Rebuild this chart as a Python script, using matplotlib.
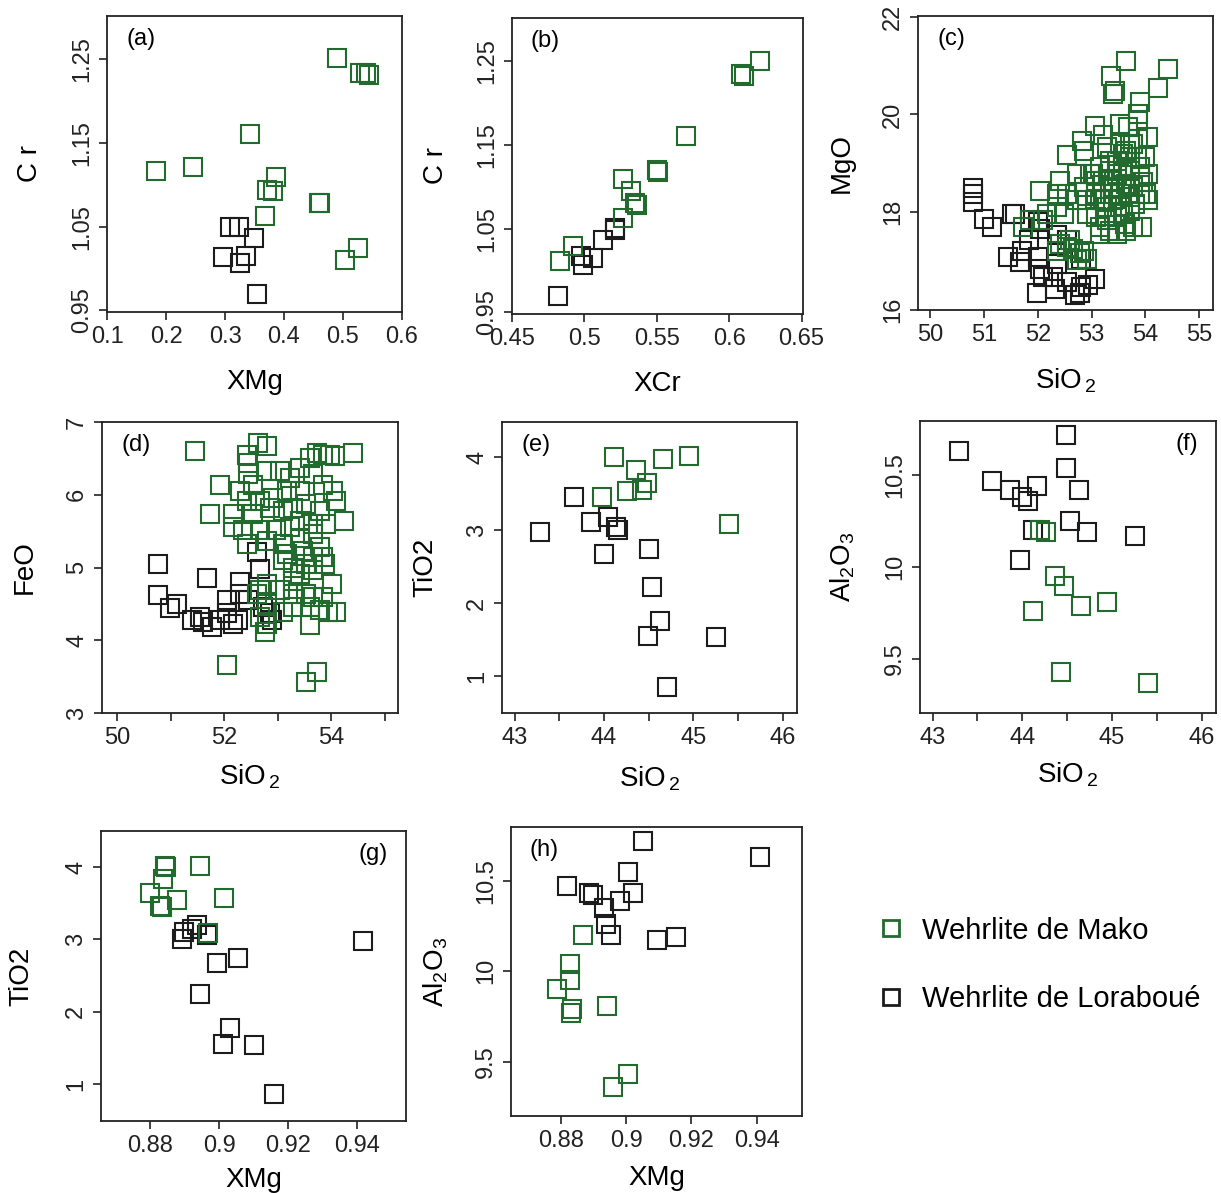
import matplotlib.pyplot as plt
from matplotlib.lines import Line2D

plt.rcParams['font.family'] = ['Liberation Sans', 'DejaVu Sans']
plt.rcParams['mathtext.fontset'] = 'custom'
plt.rcParams['mathtext.rm'] = 'Liberation Sans'
plt.rcParams['mathtext.it'] = 'Liberation Sans:italic'

MAKO = '#236a2e'
LORA = '#1c1c1c'
labels = ['Wehrlite de Mako', 'Wehrlite de Loraboué']

# (a) Cr vs XMg
a_mako_x = [0.49, 0.53, 0.54, 0.545, 0.343, 0.183, 0.245, 0.387, 0.371, 0.381, 0.459, 0.462, 0.368, 0.525, 0.503]
a_mako_y = [1.252, 1.234, 1.234, 1.232, 1.161, 1.117, 1.122, 1.110, 1.094, 1.093, 1.078, 1.078, 1.063, 1.025, 1.010]
a_lora_x = [0.308, 0.323, 0.349, 0.297, 0.336, 0.325, 0.354]
a_lora_y = [1.050, 1.050, 1.037, 1.014, 1.015, 1.007, 0.969]

# (b) Cr vs XCr
b_mako_x = [0.621, 0.608, 0.610, 0.570, 0.550, 0.551, 0.527, 0.532, 0.535, 0.536, 0.527, 0.492, 0.483]
b_mako_y = [1.251, 1.235, 1.233, 1.161, 1.120, 1.118, 1.109, 1.095, 1.081, 1.078, 1.063, 1.029, 1.011]
b_lora_x = [0.521, 0.521, 0.513, 0.506, 0.498, 0.499, 0.482]
b_lora_y = [1.051, 1.048, 1.037, 1.015, 1.017, 1.007, 0.969]

# (c) MgO vs SiO2
c_mako_x = [53.65, 53.37, 53.43, 53.40, 54.42, 54.24, 53.90, 53.87, 53.87, 53.68, 53.53, 53.06, 53.22, 54.05,
            52.82, 52.85, 52.54, 53.28, 53.53, 53.71, 53.87, 53.99, 54.05, 52.04, 52.41, 52.35, 52.54, 52.72,
            52.85, 53.03, 53.16, 53.34, 53.59, 53.71, 53.22, 53.34, 53.47, 53.59, 53.71, 53.90, 54.05, 54.02,
            53.90, 53.09, 53.22, 53.34, 53.53, 53.71, 52.91, 52.72, 52.35, 52.48, 52.17, 52.10, 51.86, 51.73,
            52.91, 53.09, 53.16, 53.28, 53.34, 53.47, 53.59, 53.65, 53.77, 53.93, 53.53, 53.71, 52.41, 52.54,
            52.66, 52.78, 52.85, 52.35, 52.72, 52.91, 52.60, 53.16, 53.28, 53.40, 53.65, 53.77, 53.40, 53.09,
            52.97, 53.34, 53.47, 53.65, 53.77, 53.84, 53.90, 53.96, 53.81, 53.62, 53.47, 53.16]
c_mako_y = [21.10, 20.79, 20.49, 20.42, 20.93, 20.54, 20.25, 20.01, 19.87, 19.74, 19.80, 19.77, 19.57, 19.53,
            19.46, 19.26, 19.16, 19.33, 19.39, 19.39, 19.50, 19.12, 18.78, 18.44, 18.64, 18.37, 18.37, 18.78,
            18.51, 18.78, 18.92, 19.05, 19.19, 19.12, 18.64, 18.64, 18.78, 18.92, 18.85, 18.71, 18.24, 18.37,
            18.37, 18.37, 18.24, 18.37, 18.37, 18.30, 18.24, 18.24, 18.10, 17.96, 17.96, 17.83, 17.83, 17.69,
            17.96, 17.90, 17.69, 17.83, 17.62, 17.90, 17.96, 17.62, 17.69, 17.69, 18.10, 18.03, 17.35, 17.28,
            17.25, 17.15, 17.21, 17.21, 17.01, 17.04, 17.42, 18.24, 18.10, 18.24, 18.58, 18.51, 18.51, 18.64,
            18.78, 18.85, 19.05, 19.26, 19.39, 19.12, 18.92, 18.61, 18.17, 17.76, 17.55, 17.55]
c_lora_x = [50.79, 50.79, 50.79, 50.99, 51.14, 51.52, 51.58, 51.45, 51.67, 51.70, 52.01, 52.04, 52.01, 52.04,
            51.98, 52.29, 52.32, 52.35, 52.54, 52.54, 52.69, 52.78, 52.81, 52.94, 53.06, 52.81, 52.35, 52.10, 51.83]
c_lora_y = [18.49, 18.37, 18.20, 17.86, 17.69, 17.96, 17.96, 17.08, 16.97, 17.21, 17.79, 17.66, 17.08, 16.84,
            16.33, 16.67, 16.43, 17.52, 17.42, 16.57, 16.29, 16.33, 16.46, 16.50, 16.63, 17.04, 16.94, 16.67, 17.42]

# (d) FeO vs SiO2
d_mako_x = [51.46, 51.93, 51.74, 52.05, 53.54, 53.73, 54.41, 52.64, 52.80, 52.42, 52.45, 52.45, 52.30, 52.55,
            52.80, 53.04, 53.23, 53.42, 53.60, 53.73, 53.85, 53.98, 54.07, 53.66, 53.85, 54.04, 54.10, 53.42,
            53.17, 52.92, 52.67, 52.42, 52.17, 52.55, 52.86, 53.11, 53.29, 53.54, 53.79, 54.25, 53.91, 53.66,
            53.42, 53.23, 52.98, 52.67, 52.36, 52.17, 52.42, 52.80, 53.11, 53.42, 53.66, 53.79, 53.48, 53.17,
            53.66, 53.85, 53.88, 53.54, 53.29, 53.11, 53.42, 53.66, 53.29, 52.80, 52.67, 53.04, 53.29, 53.54,
            53.66, 54.01, 53.85, 53.79, 53.95, 54.10, 53.60, 53.29, 53.11, 52.80, 52.67, 52.80, 52.76, 53.60, 52.61]
d_mako_y = [6.60, 6.14, 5.73, 3.66, 3.43, 3.57, 6.58, 6.71, 6.67, 6.55, 6.44, 6.28, 6.05, 6.14,
            6.33, 6.33, 6.23, 6.37, 6.51, 6.58, 6.55, 6.55, 6.53, 6.28, 6.14, 6.05, 5.92, 6.05,
            6.05, 5.96, 5.92, 5.92, 5.73, 5.73, 5.82, 5.78, 5.82, 5.87, 5.78, 5.64, 5.60, 5.60,
            5.64, 5.55, 5.51, 5.51, 5.51, 5.55, 5.32, 5.37, 5.32, 5.41, 5.46, 5.28, 5.23, 5.19,
            5.14, 5.14, 5.05, 5.05, 5.00, 5.10, 4.91, 4.96, 4.82, 4.78, 4.69, 4.69, 4.64, 4.64,
            4.59, 4.78, 4.59, 4.41, 4.39, 4.39, 4.46, 4.46, 4.39, 4.50, 4.32, 4.23, 4.12, 4.21, 4.64]
d_lora_x = [50.76, 50.76, 50.99, 51.12, 51.40, 51.55, 51.68, 51.61, 51.77, 51.93, 52.05, 52.05, 52.17, 52.27,
            52.29, 52.30, 52.45, 52.61, 52.67, 52.73, 52.86, 52.89]
d_lora_y = [5.05, 4.62, 4.44, 4.50, 4.28, 4.32, 4.85, 4.25, 4.18, 4.28, 4.55, 4.37, 4.23, 4.28,
            4.80, 4.64, 4.55, 5.21, 4.98, 4.46, 4.37, 4.28]

# (e) TiO2 vs SiO2
e_mako_x = [44.11, 44.66, 44.95, 44.36, 44.48, 44.43, 44.26, 43.98, 45.40]
e_mako_y = [4.00, 3.98, 4.01, 3.83, 3.64, 3.55, 3.54, 3.45, 3.09]
e_lora_x = [43.66, 43.29, 43.85, 44.05, 44.14, 44.16, 44.00, 44.50, 44.54, 44.63, 44.49, 45.25, 44.71]
e_lora_y = [3.46, 2.98, 3.11, 3.18, 3.05, 3.00, 2.68, 2.74, 2.23, 1.76, 1.55, 1.54, 0.86]

# (f) Al2O3 vs SiO2
f_mako_x = [44.20, 44.27, 44.36, 44.47, 44.65, 44.94, 44.12, 44.43, 45.40]
f_mako_y = [10.20, 10.19, 9.95, 9.90, 9.79, 9.81, 9.76, 9.43, 9.37]
f_lora_x = [43.29, 43.66, 43.86, 44.00, 44.06, 44.16, 44.49, 44.49, 44.63, 44.53, 44.72, 45.26, 44.12, 43.97]
f_lora_y = [10.63, 10.47, 10.42, 10.38, 10.36, 10.44, 10.72, 10.54, 10.42, 10.25, 10.19, 10.17, 10.20, 10.04]

# (g) TiO2 vs XMg
g_mako_x = [0.8842, 0.8846, 0.8945, 0.8837, 0.8798, 0.8827, 0.8834, 0.8877, 0.9013, 0.8968]
g_mako_y = [4.01, 4.00, 4.02, 3.84, 3.64, 3.46, 3.45, 3.54, 3.58, 3.09]
g_lora_x = [0.8892, 0.8897, 0.8921, 0.8935, 0.8965, 0.8994, 0.9056, 0.8945, 0.9032, 0.9011, 0.9100, 0.9160, 0.9417]
g_lora_y = [3.00, 3.10, 3.15, 3.20, 3.06, 2.68, 2.74, 2.24, 1.77, 1.55, 1.54, 0.87, 2.98]

# (h) Al2O3 vs XMg
h_mako_x = [0.8867, 0.8827, 0.8829, 0.8790, 0.8834, 0.8831, 0.8941, 0.9007, 0.8959]
h_mako_y = [10.20, 10.04, 9.95, 9.90, 9.79, 9.77, 9.81, 9.43, 9.36]
h_lora_x = [0.8820, 0.8888, 0.8898, 0.8931, 0.8982, 0.9022, 0.9007, 0.9051, 0.8939, 0.8953, 0.9094, 0.9153, 0.9410]
h_lora_y = [10.47, 10.43, 10.42, 10.35, 10.39, 10.43, 10.55, 10.72, 10.26, 10.20, 10.17, 10.19, 10.63]

W, H = 1221, 1193
fig = plt.figure(figsize=(W / 100, H / 100), dpi=100)


def panel(box, mako, lora, xlim, ylim, xt, xtl, yt, ytl, xlabel, ylabel, tag,
          tag_right=False, xlab_y=-0.21):
    l, t, r, b = box
    ax = fig.add_axes([l / W, 1 - b / H, (r - l) / W, (b - t) / H])
    ax.plot(lora[0], lora[1], 's', ms=12.5, mfc='none', mec=LORA, mew=1.5, ls='none')
    ax.plot(mako[0], mako[1], 's', ms=12.5, mfc='none', mec=MAKO, mew=1.5, ls='none')
    ax.set_xlim(xlim)
    ax.set_ylim(ylim)
    ax.set_xticks(xt, xtl)
    ax.set_yticks(yt, ytl)
    ax.tick_params(direction='out', length=6, width=1.2, labelsize=17, colors='#222222', pad=4)
    ax.tick_params(axis='y', labelrotation=90)
    for lab in ax.get_yticklabels():
        lab.set_va('center')
    for sp in ax.spines.values():
        sp.set_linewidth(1.3)
        sp.set_color('#222222')
    ax.set_xlabel(xlabel, fontsize=20)
    ax.set_ylabel(ylabel, fontsize=20)
    ax.xaxis.set_label_coords(0.5, xlab_y)
    ax.xaxis.label.set_va('center')
    ax.yaxis.set_label_coords(-0.26, 0.5)
    ax.yaxis.label.set_va('center')
    if tag_right:
        ax.text(0.94, 0.96, tag, transform=ax.transAxes, ha='right', va='top', fontsize=17)
    else:
        ax.text(0.065, 0.96, tag, transform=ax.transAxes, ha='left', va='top', fontsize=17)
    return ax


cr_t = [0.95, 1.05, 1.15, 1.25]
cr_l = ['0.95', '1.05', '1.15', '1.25']
sio_t = [43, 43.5, 44, 44.5, 45, 45.5, 46]
sio_l = ['43', '', '44', '', '45', '', '46']
xmg_t = [0.88, 0.90, 0.92, 0.94]
xmg_l = ['0.88', '0.9', '0.92', '0.94']
al_t = [9.5, 10, 10.5]
al_l = ['9.5', '10', '10.5']
ti_t = [1, 2, 3, 4]
ti_l = ['1', '2', '3', '4']
sio2 = r'SiO$_{\,2}$'
al2o3 = r'Al$_{2}$O$_{3}$'

panel((107, 16, 402, 312), (a_mako_x, a_mako_y), (a_lora_x, a_lora_y), (0.0995, 0.6005), (0.948, 1.302),
      [0.1, 0.2, 0.3, 0.4, 0.5, 0.6], ['0.1', '0.2', '0.3', '0.4', '0.5', '0.6'], cr_t, cr_l,
      'XMg', 'C r', '(a)', xlab_y=-0.235)
panel((512, 18, 803, 314), (b_mako_x, b_mako_y), (b_lora_x, b_lora_y), (0.45, 0.651), (0.948, 1.302),
      [0.45, 0.5, 0.55, 0.6, 0.65], ['0.45', '0.5', '0.55', '0.6', '0.65'], cr_t, cr_l,
      'XCr', 'C r', '(b)', xlab_y=-0.235)
panel((918, 16, 1213, 310), (c_mako_x, c_mako_y), (c_lora_x, c_lora_y), (49.77, 55.26), (15.99, 22.02),
      [50, 51, 52, 53, 54, 55], ['50', '51', '52', '53', '54', '55'], [16, 18, 20, 22], ['16', '18', '20', '22'],
      sio2, 'MgO', '(c)', xlab_y=-0.24)
panel((102, 422, 398, 713), (d_mako_x, d_mako_y), (d_lora_x, d_lora_y), (49.72, 55.25), (3.0, 6.99),
      [50, 51, 52, 53, 54, 55], ['50', '', '52', '', '54', ''], [3, 4, 5, 6, 7], ['3', '4', '5', '6', '7'],
      sio2, 'FeO', '(d)', xlab_y=-0.22)
panel((502, 422, 797, 713), (e_mako_x, e_mako_y), (e_lora_x, e_lora_y), (42.86, 46.16), (0.5, 4.48),
      sio_t, sio_l, ti_t, ti_l, sio2, 'TiO2', '(e)', xlab_y=-0.225)
panel((920, 421, 1216, 713), (f_mako_x, f_mako_y), (f_lora_x, f_lora_y), (42.86, 46.16), (9.207, 10.795),
      sio_t, sio_l, al_t, al_l, sio2, al2o3, '(f)', tag_right=True, xlab_y=-0.21)
panel((101, 831, 406, 1121), (g_mako_x, g_mako_y), (g_lora_x, g_lora_y), (0.8657, 0.9543), (0.49, 4.5),
      xmg_t, xmg_l, ti_t, ti_l, 'XMg', 'TiO2', '(g)', tag_right=True, xlab_y=-0.205)
panel((511, 827, 802, 1116), (h_mako_x, h_mako_y), (h_lora_x, h_lora_y), (0.8648, 0.9538), (9.199, 10.797),
      xmg_t, xmg_l, al_t, al_l, 'XMg', al2o3, '(h)', xlab_y=-0.215)

handles = [Line2D([], [], marker='s', ls='none', ms=12, mfc='none', mec=MAKO, mew=2),
           Line2D([], [], marker='s', ls='none', ms=12, mfc='none', mec=LORA, mew=2)]
fig.legend(handles, labels, loc='center left', bbox_to_anchor=(850 / W, 1 - 965 / H), frameon=False,
           fontsize=21, handlelength=1, handletextpad=0.57, labelspacing=1.4)

fig.savefig('out.png', dpi=100, facecolor='white')
